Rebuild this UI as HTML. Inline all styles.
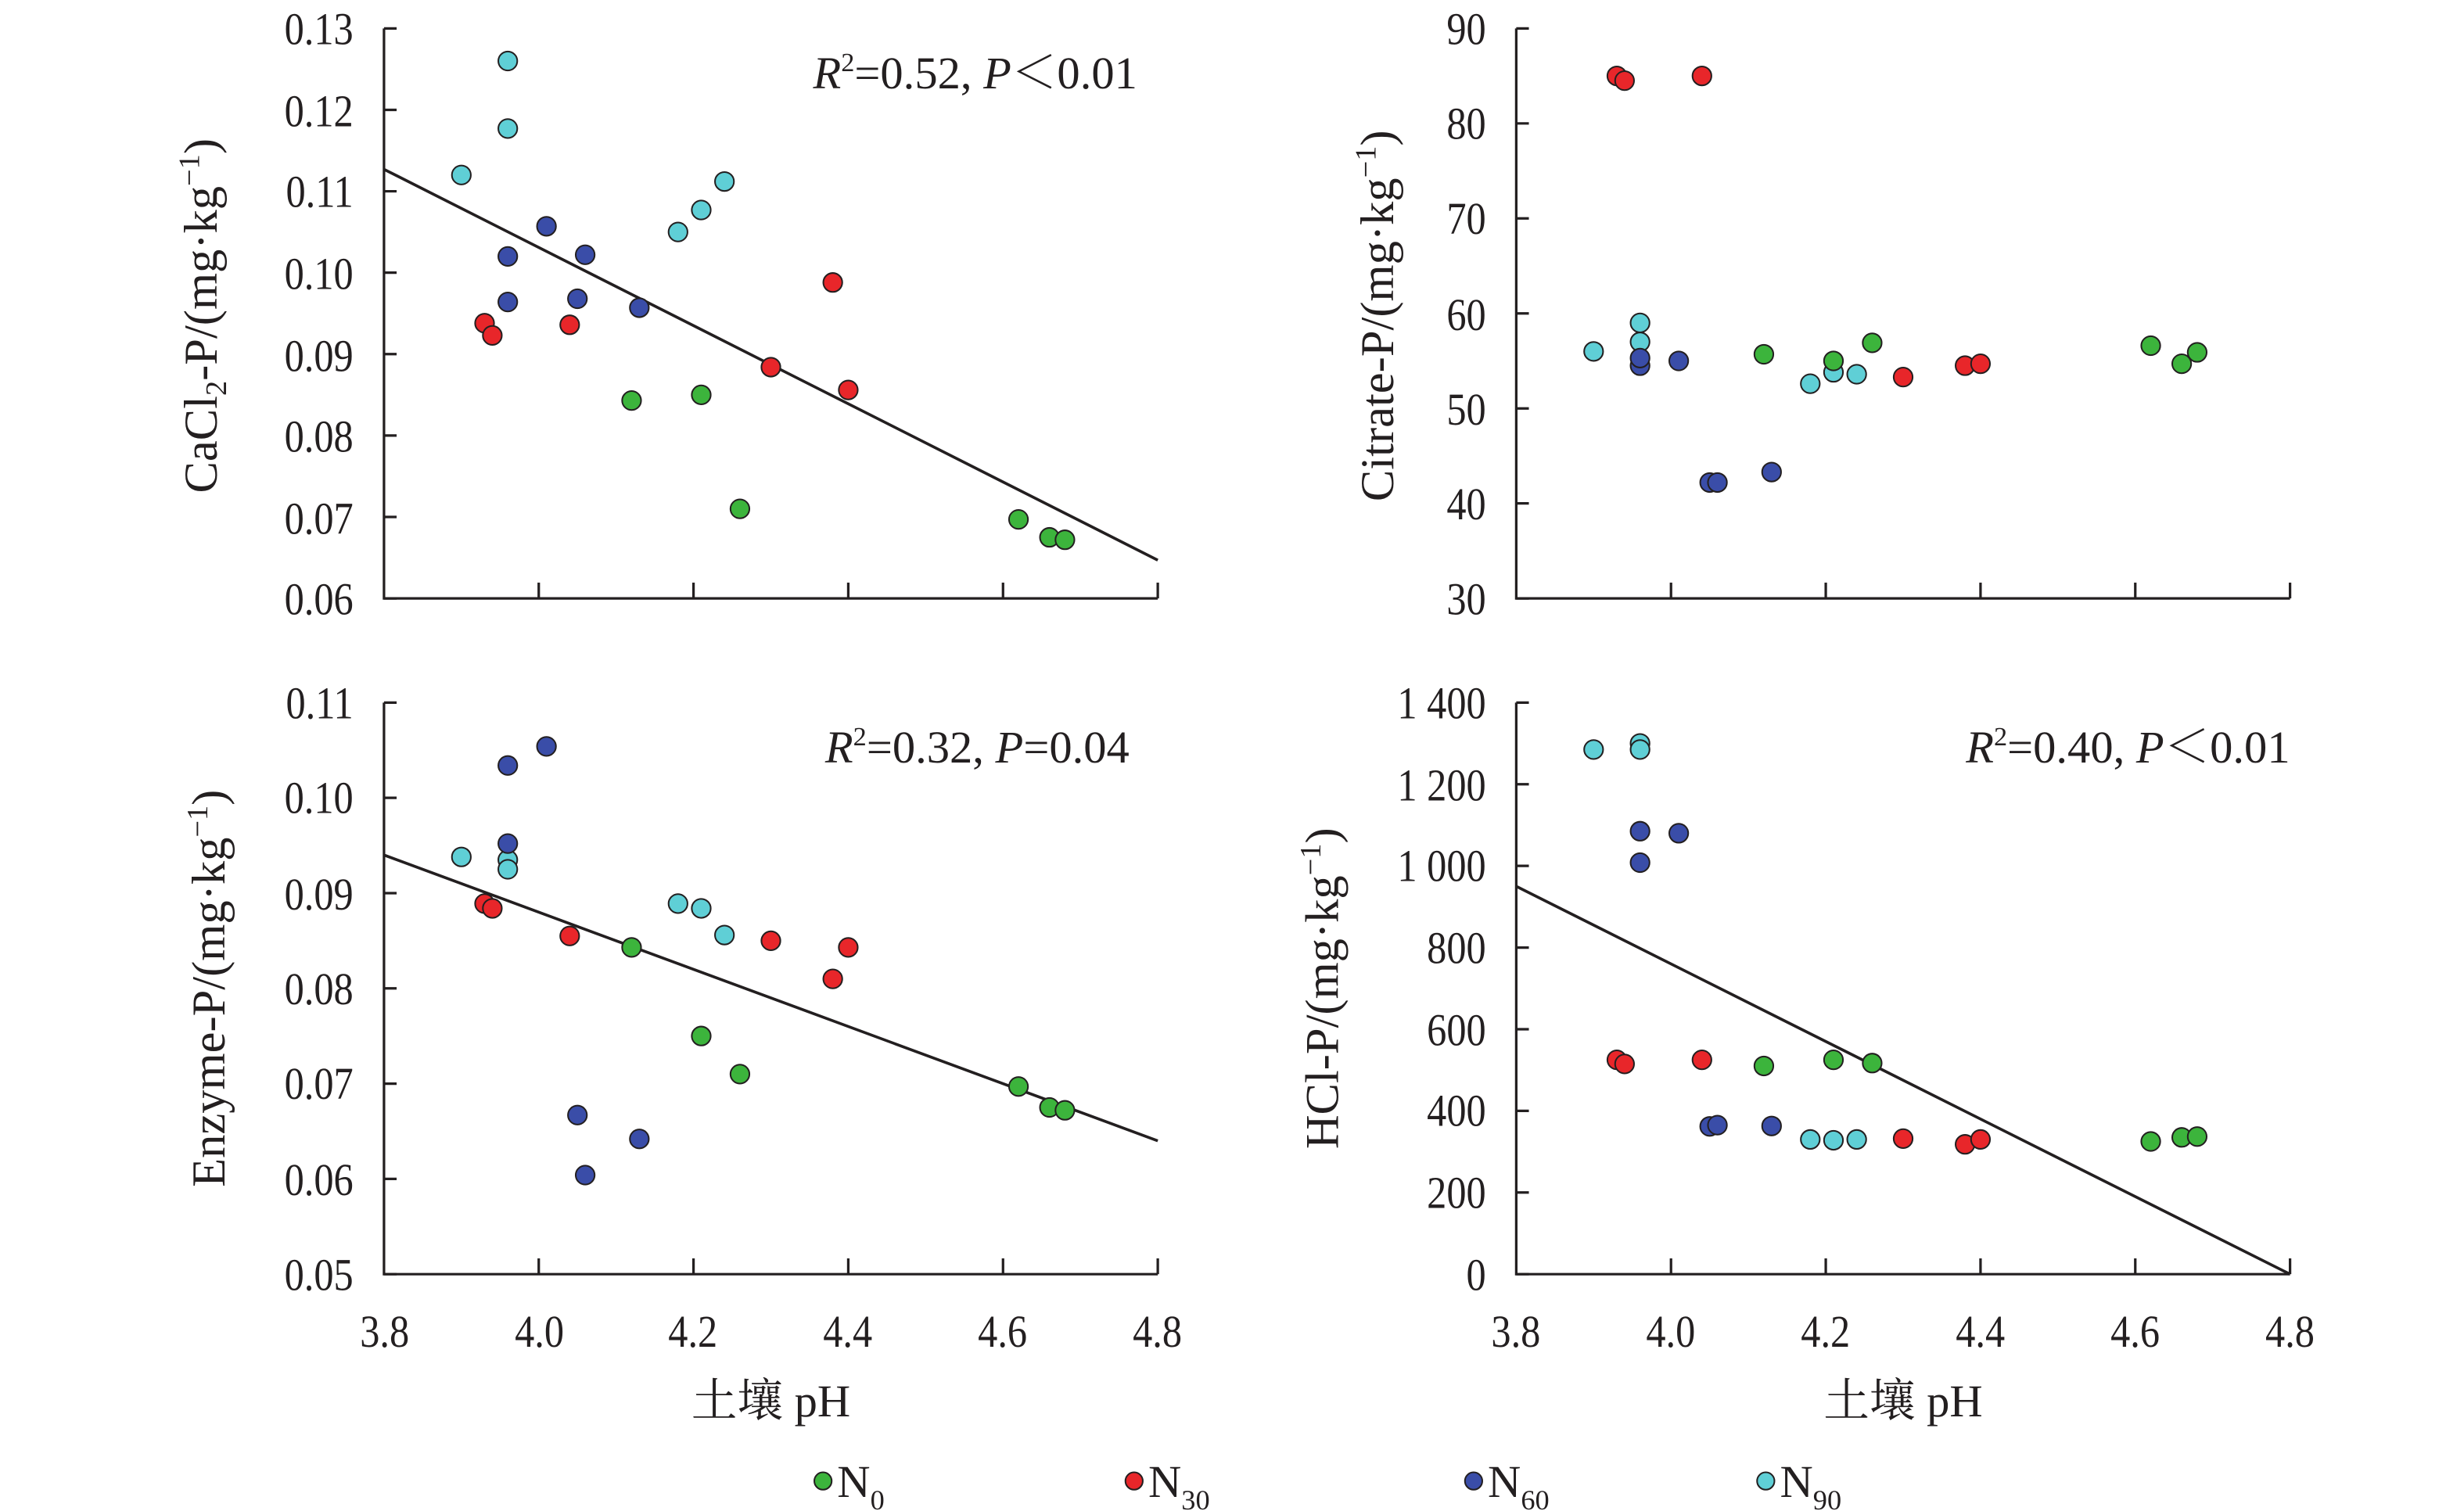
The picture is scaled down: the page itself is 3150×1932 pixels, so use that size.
<!DOCTYPE html>
<html><head><meta charset="utf-8"><style>
html,body{margin:0;padding:0;background:#fff;}
svg{display:block;}
text{font-family:"Liberation Serif","Noto Serif CJK SC",serif;fill:#231f20;}
.tk{font-size:29px;}
</style></head><body>
<svg id="s" width="3150" height="1932" viewBox="0 0 1560 957" xmlns="http://www.w3.org/2000/svg">
<g id="axes" stroke="#231f20" stroke-width="1.6" fill="none"></g>
<g id="pts"></g>
<g class="tk" text-anchor="end" transform="scale(0.86,1)">
<g transform="translate(0,0)">
<text x="260" y="28">0.13</text><text x="260" y="80">0.12</text><text x="260" y="131">0.11</text><text x="260" y="183">0.10</text><text x="260" y="235">0.09</text><text x="260" y="286">0.08</text><text x="260" y="338">0.07</text><text x="260" y="389">0.06</text>
<text x="1094" y="28">90</text><text x="1094" y="88">80</text><text x="1094" y="148">70</text><text x="1094" y="209">60</text><text x="1094" y="269">50</text><text x="1094" y="329">40</text><text x="1094" y="389">30</text>
<text x="260" y="455">0.11</text><text x="260" y="515">0.10</text><text x="260" y="576">0.09</text><text x="260" y="636">0.08</text><text x="260" y="696">0.07</text><text x="260" y="757">0.06</text><text x="260" y="817">0.05</text>
<text x="1094" y="455">1 400</text><text x="1094" y="507">1 200</text><text x="1094" y="558">1 000</text><text x="1094" y="610">800</text><text x="1094" y="662">600</text><text x="1094" y="713">400</text><text x="1094" y="765">200</text><text x="1094" y="817">0</text>
</g>
<g text-anchor="middle">
<text x="283" y="853">3.8</text><text x="397" y="853">4.0</text><text x="510" y="853">4.2</text><text x="624" y="853">4.4</text><text x="738" y="853">4.6</text><text x="852" y="853">4.8</text>
<text x="1116" y="853">3.8</text><text x="1230" y="853">4.0</text><text x="1344" y="853">4.2</text><text x="1458" y="853">4.4</text><text x="1572" y="853">4.6</text><text x="1686" y="853">4.8</text>
</g>
</g>
<g text-anchor="middle" font-size="29">
<text x="488" y="897">土壤 pH</text><text x="1205" y="897">土壤 pH</text>
</g>
<g font-size="30" text-anchor="middle">
<text transform="translate(137,200) rotate(-90)">CaCl<tspan font-size="19" dy="6">2</tspan><tspan dy="-6">-P/(mg·kg</tspan><tspan font-size="19" dy="-11">−1</tspan><tspan dy="11">)</tspan></text>
<text transform="translate(882,200) rotate(-90)">Citrate-P/(mg·kg<tspan font-size="19" dy="-11">−1</tspan><tspan dy="11">)</tspan></text>
<text transform="translate(142,626) rotate(-90)">Enzyme-P/(mg·kg<tspan font-size="19" dy="-11">−1</tspan><tspan dy="11">)</tspan></text>
<text transform="translate(847,626) rotate(-90)">HCl-P/(mg·kg<tspan font-size="19" dy="-11">−1</tspan><tspan dy="11">)</tspan></text>
</g>
<g font-size="29" text-anchor="end">
<text x="720" y="56"><tspan font-style="italic">R</tspan><tspan font-size="17" dy="-11">2</tspan><tspan dy="11">=0.52, </tspan><tspan font-style="italic">P</tspan>＜0.01</text>
<text x="715" y="483"><tspan font-style="italic">R</tspan><tspan font-size="17" dy="-11">2</tspan><tspan dy="11">=0.32, </tspan><tspan font-style="italic">P</tspan>=0.04</text>
<text x="1450" y="483"><tspan font-style="italic">R</tspan><tspan font-size="17" dy="-11">2</tspan><tspan dy="11">=0.40, </tspan><tspan font-style="italic">P</tspan>＜0.01</text>
</g>
<g font-size="29">
<circle cx="521" cy="938" r="5.5" fill="#3cb43c" stroke="#231f20" stroke-width="1"/>
<text x="530" y="948">N<tspan font-size="18" dy="8">0</tspan></text>
<circle cx="718" cy="938" r="5.5" fill="#e8262a" stroke="#231f20" stroke-width="1"/>
<text x="727" y="948">N<tspan font-size="18" dy="8">30</tspan></text>
<circle cx="933" cy="938" r="5.5" fill="#3a4da8" stroke="#231f20" stroke-width="1"/>
<text x="942" y="948">N<tspan font-size="18" dy="8">60</tspan></text>
<circle cx="1118" cy="938" r="5.5" fill="#5fcfd6" stroke="#231f20" stroke-width="1"/>
<text x="1127" y="948">N<tspan font-size="18" dy="8">90</tspan></text>
</g>
</svg>
<script>
var NS="http://www.w3.org/2000/svg";
var C={g:"#3cb43c",r:"#e8262a",b:"#3a4da8",c:"#5fcfd6"};
var P=[
{x0:243,x1:733,yt:18,yb:379,vmin:0.06,vmax:0.13,n:7,line:[0.1127,0.0647],d:{
c:[[3.90,0.112],[3.96,0.126],[3.96,0.1177],[4.18,0.105],[4.21,0.1077],[4.24,0.1112]],
b:[[3.96,0.102],[3.96,0.0964],[4.01,0.1057],[4.05,0.0968],[4.06,0.1022],[4.13,0.0957]],
r:[[3.93,0.0938],[3.94,0.0923],[4.04,0.0936],[4.30,0.0884],[4.38,0.0988],[4.40,0.0856]],
g:[[4.12,0.0843],[4.21,0.085],[4.26,0.071],[4.62,0.0697],[4.66,0.0675],[4.68,0.0672]]}},
{x0:960,x1:1450,yt:18,yb:379,vmin:30,vmax:90,n:6,line:null,d:{
r:[[3.93,85],[3.94,84.5],[4.04,85],[4.30,53.3],[4.38,54.5],[4.40,54.7]],
c:[[3.90,56],[3.96,59],[3.96,57],[4.18,52.6],[4.21,53.8],[4.24,53.6]],
b:[[3.96,54.5],[3.96,55.3],[4.01,55],[4.05,42.2],[4.06,42.2],[4.13,43.3]],
g:[[4.12,55.7],[4.21,55],[4.26,56.9],[4.62,56.6],[4.66,54.7],[4.68,55.9]]}},
{x0:243,x1:733,yt:445,yb:807,vmin:0.05,vmax:0.11,n:6,line:[0.094,0.064],d:{
b:[[3.96,0.1034],[4.01,0.1054],[3.96,0.0952],[4.05,0.0667],[4.06,0.0604],[4.13,0.0642]],
c:[[3.90,0.0938],[3.96,0.0935],[3.96,0.0925],[4.18,0.0889],[4.21,0.0884],[4.24,0.0856]],
r:[[3.93,0.0889],[3.94,0.0884],[4.04,0.0855],[4.30,0.0850],[4.38,0.0810],[4.40,0.0843]],
g:[[4.12,0.0843],[4.21,0.0750],[4.26,0.0710],[4.62,0.0697],[4.66,0.0675],[4.68,0.0672]]}},
{x0:960,x1:1450,yt:445,yb:807,vmin:0,vmax:1400,n:7,line:[950,0],d:{
c:[[3.90,1285],[3.96,1300],[3.96,1285],[4.18,330],[4.21,328],[4.24,330]],
b:[[3.96,1085],[3.96,1008],[4.01,1080],[4.05,362],[4.06,365],[4.13,363]],
r:[[3.93,525],[3.94,515],[4.04,525],[4.30,332],[4.38,318],[4.40,330]],
g:[[4.12,510],[4.21,525],[4.26,517],[4.62,325],[4.66,335],[4.68,337]]}}
];
var ax=document.getElementById("axes"),pts=document.getElementById("pts");
function el(p,t,a){var e=document.createElementNS(NS,t);for(var k in a)e.setAttribute(k,a[k]);p.appendChild(e);return e;}
P.forEach(function(p){
 var X=function(v){return p.x0+(v-3.8)/1.0*(p.x1-p.x0)};
 var Y=function(v){return p.yb-(v-p.vmin)/(p.vmax-p.vmin)*(p.yb-p.yt)};
 el(ax,"path",{d:"M"+p.x0+","+p.yt+"V"+p.yb+"H"+p.x1});
 for(var i=0;i<=p.n;i++){var y=p.yt+i*(p.yb-p.yt)/p.n;el(ax,"path",{d:"M"+p.x0+","+y+"h8"});}
 for(var j=1;j<=5;j++){var x=p.x0+j*(p.x1-p.x0)/5;el(ax,"path",{d:"M"+x+","+p.yb+"v-10"});}
 if(p.line)el(ax,"line",{x1:p.x0,y1:Y(p.line[0]),x2:p.x1,y2:Y(p.line[1]),"stroke-width":"1.8"});
 ["c","b","r","g"].forEach(function(k){p.d[k].forEach(function(q){
  el(pts,"circle",{cx:X(q[0]),cy:Y(q[1]),r:6,fill:C[k],stroke:"#231f20","stroke-width":"1"});});});
});
</script>
</body></html>
